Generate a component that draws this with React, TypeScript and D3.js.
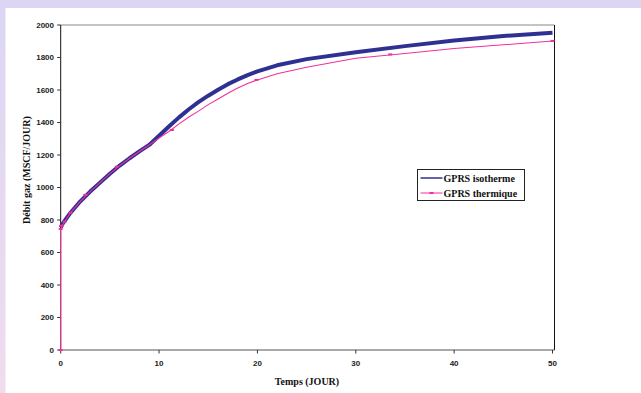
import React from "react";
import * as d3 from "d3";

const isoT = [0, 0.2, 0.5, 1, 2, 3, 4, 5, 6, 7, 8, 9, 10, 11, 12, 13, 14, 15, 16, 17, 18, 19, 20, 22, 25, 30, 35, 40, 45, 50];
const isoV = [755, 778, 803, 845, 915, 975, 1030, 1085, 1135, 1180, 1222, 1262, 1318, 1375, 1430, 1480, 1525, 1565, 1602, 1636, 1665, 1692, 1715, 1752, 1790, 1832, 1870, 1905, 1932, 1952];

const thT = [0, 0, 0.2, 0.5, 1, 2, 3, 4, 5, 6, 7, 8, 9, 10, 11, 12, 13, 14, 15, 16, 17, 18, 19, 20, 22, 25, 30, 35, 40, 45, 50];
const thV = [0, 740, 770, 800, 845, 915, 975, 1030, 1085, 1135, 1180, 1222, 1262, 1305, 1345, 1390, 1432, 1470, 1510, 1545, 1580, 1612, 1640, 1662, 1700, 1740, 1795, 1825, 1855, 1878, 1902];

const markT = [0, 0, 0.1, 0.4, 1, 2.5, 5.7, 11.3, 19.9, 33.5, 50];
const markV = [0, 745, 765, 790, 845, 955, 1128, 1354, 1662, 1819, 1902];

const xTicks = [0, 10, 20, 30, 40, 50];
const yTicks = [0, 200, 400, 600, 800, 1000, 1200, 1400, 1600, 1800, 2000];

const seriesNames = ["GPRS isotherme", "GPRS thermique"];
const xTitle = "Temps (JOUR)";
const yTitle = "Débit gaz (MSCF/JOUR)";

const W = 641;
const H = 393;
const BLUE = "#2e3192";
const PINK = "#f0309c";

export default function App() {
  const x = d3.scaleLinear().domain([0, 50]).range([60.7, 552.5]);
  const y = d3.scaleLinear().domain([0, 2000]).range([350, 25]);
  const line = d3
    .line<[number, number]>()
    .x((d) => x(d[0]))
    .y((d) => y(d[1]))
    .curve(d3.curveLinear);

  const isoPts: [number, number][] = isoT.map((t, i) => [t, isoV[i]]);
  const thPts: [number, number][] = thT.map((t, i) => [t, thV[i]]);
  const sansB = "'Liberation Sans', Arial, sans-serif";
  const serif = "'Liberation Serif', 'Times New Roman', serif";
  const left = x(0);
  const right = 554.5;

  return (
    <div style={{ position: "absolute", left: 0, top: 0 }}>
      <svg width={W} height={H} style={{ display: "block" }}>
        <defs>
          <linearGradient id="lb" x1="0" y1="0" x2="0" y2="1">
            <stop offset="0" stopColor="#dcd6f4" />
            <stop offset="1" stopColor="#efdcee" />
          </linearGradient>
        </defs>
        <rect x={0} y={0} width={W} height={H} fill="url(#lb)" />
        <rect x={0} y={0} width={W} height={8} fill="#dcd6f4" />
        <rect x={5.5} y={8} width={W - 5.5} height={H - 8} fill="#ffffff" />

        {/* frame */}
        <line x1={left} x2={right} y1={y(2000)} y2={y(2000)} stroke="#888888" strokeWidth={1} />
        <line x1={right} x2={right} y1={y(2000)} y2={y(0)} stroke="#111111" strokeWidth={1} />
        <line x1={left} x2={right} y1={y(0)} y2={y(0)} stroke="#555555" strokeWidth={1.2} />
        <line x1={left} x2={left} y1={y(2000)} y2={y(0)} stroke="#111111" strokeWidth={1} />

        {yTicks.map((v) => (
          <g key={"y" + v}>
            <line x1={left - 3.5} x2={left} y1={y(v)} y2={y(v)} stroke="#333" strokeWidth={1} />
            <text x={54} y={y(v)} dy="0.35em" textAnchor="end" fontFamily={sansB} fontWeight="bold" fontSize={8} fill="#222">
              {v}
            </text>
          </g>
        ))}
        {xTicks.map((v) => (
          <g key={"x" + v}>
            <line x1={x(v)} x2={x(v)} y1={y(0)} y2={y(0) + 3.5} stroke="#333" strokeWidth={1} />
            <text x={x(v)} y={363} dy="0.35em" textAnchor="middle" fontFamily={sansB} fontWeight="bold" fontSize={8} fill="#222">
              {v}
            </text>
          </g>
        ))}

        <text x={307} y={381} dy="0.35em" textAnchor="middle" fontFamily={serif} fontWeight="bold" fontSize={10} fill="#111">
          {xTitle}
        </text>
        <text
          transform={`translate(26,${170}) rotate(-90)`}
          dy="0.35em"
          textAnchor="middle"
          fontFamily={serif}
          fontWeight="bold"
          fontSize={10}
          fill="#111"
        >
          {yTitle}
        </text>

        {/* series */}
        <path d={line(isoPts) || ""} fill="none" stroke={BLUE} strokeWidth={4} strokeLinejoin="round" />
        <path d={line(thPts) || ""} fill="none" stroke={PINK} strokeWidth={1.1} />
        {markT.map((t, i) => (
          <rect key={"m" + i} x={x(t) - 2} y={y(markV[i]) - 1} width={4} height={2} fill={PINK} />
        ))}

        {/* legend */}
        <rect x={417.5} y={169.5} width={107} height={31} fill="#ffffff" stroke="#222" strokeWidth={1} />
        <line x1={420.5} x2={442.5} y1={178} y2={178} stroke={BLUE} strokeWidth={1.5} />
        <line x1={420.5} x2={442.5} y1={193} y2={193} stroke={PINK} strokeWidth={1} />
        <rect x={429.5} y={192} width={4} height={2} fill={PINK} />
        <text x={443.5} y={178} dy="0.35em" fontFamily={serif} fontWeight="bold" fontSize={10} fill="#111">
          {seriesNames[0]}
        </text>
        <text x={443.5} y={193} dy="0.35em" fontFamily={serif} fontWeight="bold" fontSize={10} fill="#111">
          {seriesNames[1]}
        </text>
      </svg>
    </div>
  );
}
